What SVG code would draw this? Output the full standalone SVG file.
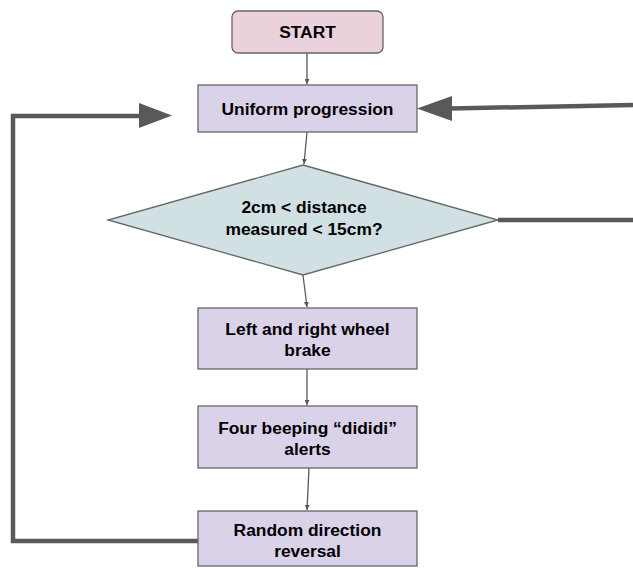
<svg xmlns="http://www.w3.org/2000/svg" width="633" height="568" viewBox="0 0 633 568">
<style>
.box{fill:#d9d2e9;stroke:#666666;stroke-width:1.3}
.start{fill:#ead1dc;stroke:#666666;stroke-width:1.3}
.dia{fill:#d0e0e3;stroke:#666666;stroke-width:1.3}
.t{font-family:"Liberation Sans",Arial,sans-serif;font-weight:bold;font-size:17.4px;fill:#000;text-anchor:middle}
.thin{stroke:#595959;stroke-width:1.3;fill:none}
.thick{stroke:#595959;stroke-width:4.5;fill:none}
</style>
<defs>
<marker id="sa" viewBox="0 0 10 10" refX="10" refY="5" markerWidth="5" markerHeight="5" markerUnits="userSpaceOnUse" orient="auto"><path d="M0,0 L10,5 L0,10 z" fill="#595959"/></marker>
</defs>
<rect width="633" height="568" fill="#ffffff"/>
<g id="connectors">
<line class="thin" x1="307" y1="53" x2="307" y2="84" marker-end="url(#sa)"/>
<line class="thin" x1="307" y1="132" x2="304" y2="164" marker-end="url(#sa)"/>
<line class="thin" x1="303" y1="275" x2="307" y2="307" marker-end="url(#sa)"/>
<line class="thin" x1="307" y1="369" x2="307" y2="405" marker-end="url(#sa)"/>
<line class="thin" x1="309" y1="468" x2="307" y2="510" marker-end="url(#sa)"/>
<line class="thick" x1="498" y1="220" x2="633" y2="220"/>
<path class="thick" d="M633,105 L450,108.5"/>
<path d="M417,108.5 L452,96 L452,121 z" fill="#595959"/>
<path class="thick" d="M198,541 L13,541 L13,116 L142,116"/>
<path d="M172,115.5 L139,103 L139,128 z" fill="#595959"/>
</g>
<g id="start">
<rect class="start" x="232" y="11" width="151" height="42" rx="6"/>
<text class="t" x="307.5" y="37.5">START</text>
</g>
<g id="uniform">
<rect class="box" x="198" y="85" width="219" height="47"/>
<text class="t" x="307.5" y="115">Uniform progression</text>
</g>
<g id="decision">
<polygon class="dia" points="303,165 498,220 303,275 108,220"/>
<text class="t" x="304" y="213">2cm &lt; distance</text>
<text class="t" x="304" y="234.5">measured &lt; 15cm?</text>
</g>
<g id="brake">
<rect class="box" x="198" y="308" width="219" height="61"/>
<text class="t" x="307.5" y="335">Left and right wheel</text>
<text class="t" x="307.5" y="356">brake</text>
</g>
<g id="beep">
<rect class="box" x="198" y="406" width="219" height="62"/>
<text class="t" x="307.5" y="434">Four beeping “dididi”</text>
<text class="t" x="307.5" y="455">alerts</text>
</g>
<g id="reverse">
<rect class="box" x="198" y="511" width="219" height="55"/>
<text class="t" x="307.5" y="536">Random direction</text>
<text class="t" x="307.5" y="557">reversal</text>
</g>
</svg>
